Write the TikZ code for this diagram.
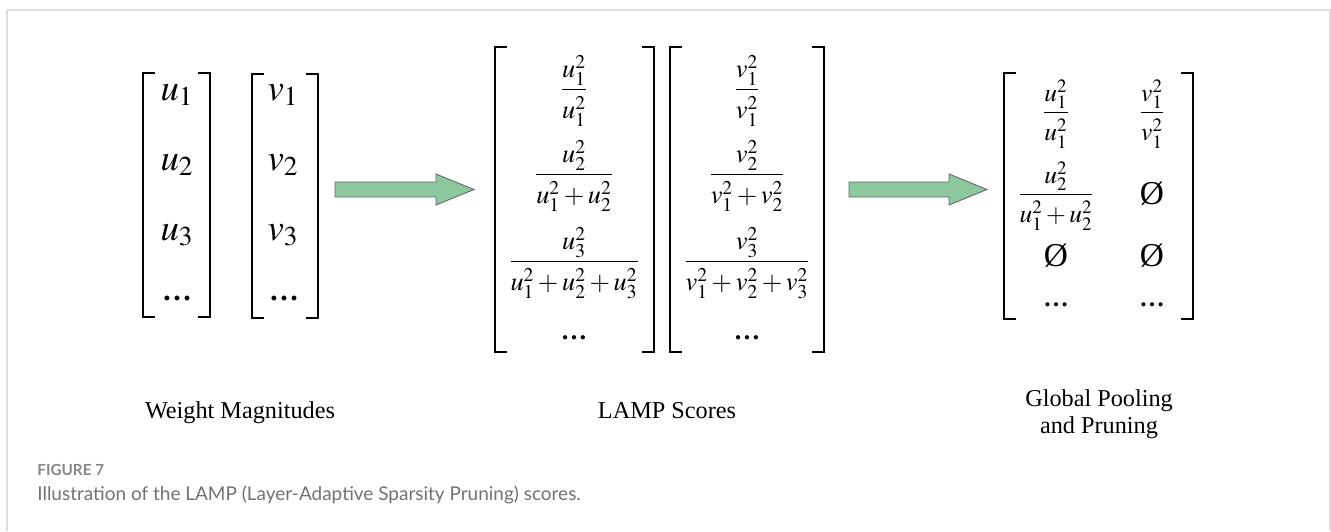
\documentclass[tikz,border=0pt]{standalone}
\usepackage{mathptmx}
\usepackage[no-math]{fontspec}
\setmainfont{Liberation Serif}
\newfontfamily\capfont{Lato}
\definecolor{arrowgreen}{HTML}{8CC79D}
\definecolor{capgray}{HTML}{727272}
\definecolor{framegray}{HTML}{DEDEDE}
\newcommand{\lampfrac}[2]{\displaystyle\frac{#1\rule[-0.3em]{0pt}{0pt}}{\rule{0pt}{0.95em}#2}}
\newcommand{\bdots}{\textbf{…}}

\begin{document}
\begin{tikzpicture}[x=0.02cm,y=-0.02cm,
  brk/.style={line width=1.25pt},
  bigarrow/.style={draw=black!60,fill=arrowgreen,line width=0.5pt},
  big/.style={anchor=base,inner sep=0pt,font=\fontsize{21}{25}\selectfont},
  frc/.style={anchor=base,inner sep=0pt,font=\fontsize{15}{18}\selectfont},
  pool/.style={anchor=base,inner sep=0pt,font=\fontsize{14.5}{17}\selectfont},
  empty/.style={pool,font=\fontsize{19}{21}\selectfont},
  lbl/.style={anchor=base,align=center,font=\fontsize{13.8}{15.3}\selectfont}]
\useasboundingbox (0,0) rectangle (1331,531);
\draw[framegray,line width=0.6pt] (7,531) -- (7,10) -- (1330,10) -- (1330,531);

% brackets
\foreach \l/\r/\t/\b in {143/210/73/317,252/318/74/318,495/654/47/352,670/824/47/352,1004/1193/73/319}{
  \draw[brk] (\l+12,\t) -- (\l,\t) -- (\l,\b) -- (\l+12,\b);
  \draw[brk] (\r-12,\t) -- (\r,\t) -- (\r,\b) -- (\r-12,\b);
}

% weight magnitudes
\foreach \i/\y in {1/100,2/170,3/240}{
  \node[big] (u\i) at (177,\y) {$u_\i$};
  \node[big] (v\i) at (283,\y) {$v_\i$};
}
\node[big,font=\fontsize{17}{19}\selectfont] (ud) at (177,300) {\bdots};
\node[big,font=\fontsize{17}{19}\selectfont] (vd) at (284,300) {\bdots};

% LAMP scores
\node[frc] (lu1) at (574,96) {$\lampfrac{u_1^2}{u_1^2}$};
\node[frc] (lu2) at (574,181) {$\lampfrac{u_2^2}{u_1^2+u_2^2}$};
\node[frc] (lu3) at (574,268) {$\lampfrac{u_3^2}{u_1^2+u_2^2+u_3^2}$};
\node[frc] (lud) at (574,339) {\bdots};
\node[frc] (lv1) at (747,96) {$\lampfrac{v_1^2}{v_1^2}$};
\node[frc] (lv2) at (747,181) {$\lampfrac{v_2^2}{v_1^2+v_2^2}$};
\node[frc] (lv3) at (747,268) {$\lampfrac{v_3^2}{v_1^2+v_2^2+v_3^2}$};
\node[frc] (lvd) at (747,339) {\bdots};

% global pooling
\node[pool] (g11) at (1056,119) {$\lampfrac{u_1^2}{u_1^2}$};
\node[pool] (g12) at (1152,119) {$\lampfrac{v_1^2}{v_1^2}$};
\node[pool] (g21) at (1056,201) {$\lampfrac{u_2^2}{u_1^2+u_2^2}$};
\node[empty] (g22) at (1152,204) {Ø};
\node[empty] (g31) at (1056,266) {Ø};
\node[empty] (g32) at (1152,266) {Ø};
\node[pool] (g41) at (1056,306) {\bdots};
\node[pool] (g42) at (1152,306) {\bdots};

% arrows
\foreach \s/\e in {335/474,849/987}{
  \draw[bigarrow] (\s,182) -- (\e-38,182) -- (\e-38,174) -- (\e,189.5) -- (\e-38,205) -- (\e-38,197) -- (\s,197) -- cycle;
}

\node[lbl] (wm) at (240,418) {Weight Magnitudes};
\node[lbl] (ls) at (667,418) {LAMP Scores};
\node[lbl] (gp) at (1099,433) {Global Pooling\\and Pruning};

\node[anchor=base west,inner sep=0pt,text=capgray!85,font=\capfont\bfseries\fontsize{8.7}{11}\selectfont] (fig) at (37,475) {FIGURE 7};
\node[anchor=base west,inner sep=0pt,text=capgray,font=\capfont\fontsize{10.8}{13}\selectfont] (cap) at (37,500) {Illustration of the LAMP (Layer-Adaptive Sparsity Pruning) scores.};
\end{tikzpicture}
\end{document}
